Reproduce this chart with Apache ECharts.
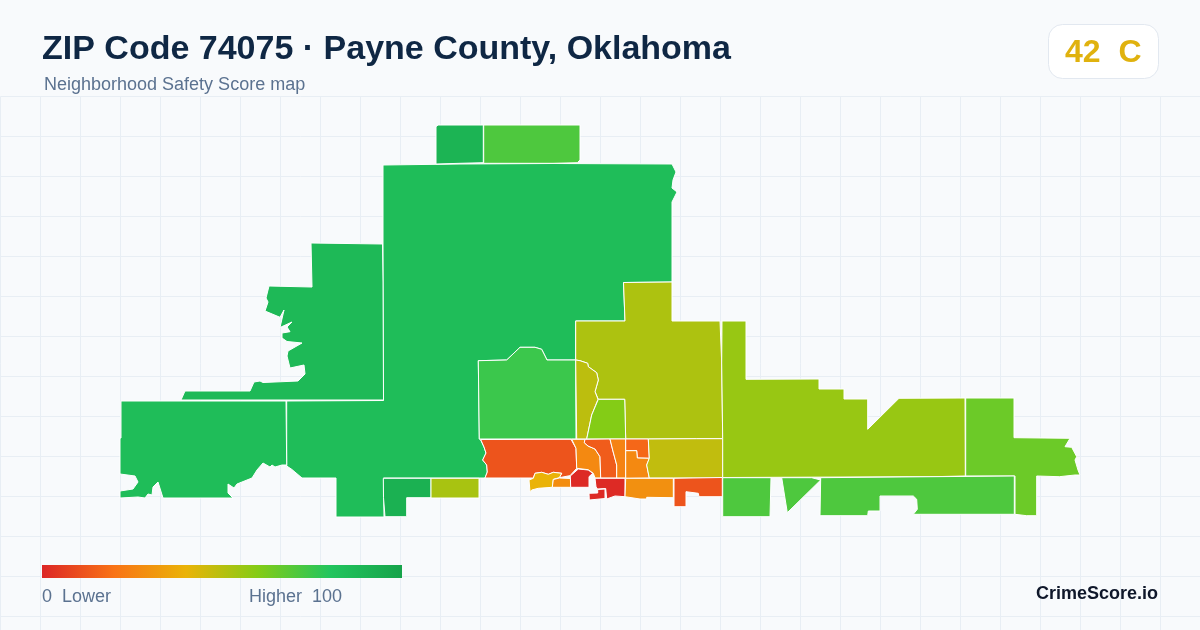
<!DOCTYPE html>
<html>
<head>
<meta charset="utf-8">
<title>ZIP Code 74075</title>
<script src="https://cdn.jsdelivr.net/npm/echarts@6/dist/echarts.min.js"></script>
<style>
  html, body { margin: 0; padding: 0; background: #f8fafc; }
  #main { width: 1200px; height: 630px; }
</style>
</head>
<body>
<div id="main"></div>
<script>
var titleText = 'ZIP Code 74075 · Payne County, Oklahoma';
var subtitleText = 'Neighborhood Safety Score map';
var badgeText = '42  C';
var brandText = 'CrimeScore.io';
var legendLowText = '0  Lower';
var legendHighText = 'Higher  100';

var rampColors = ['#dc2626', '#f97316', '#eab308', '#84cc16', '#22c55e', '#16a34a'];

// score of each area
var areaNames = ['main', 'west', 'southwest', 'topLeft', 'topRight', 'bottomDark', 'bottomOlive',
  'centerLeft', 'northCenter', 'sliver', 'lime', 'southBig', 'yellow', 'smallOrange', 'red1',
  'orangeA', 'orangeB', 'orangeC', 'orangeD', 'orangeE', 'rightOlive', 'redB', 'redC',
  'orangeF', 'orangeG', 'east', 'farEast', 'southeast'];
var areaScores = [85, 87, 85, 90, 71, 92, 53,
  75, 52, 49, 60, 12, 40, 28, 1,
  27, 14, 25, 17, 27, 48, 1, 1,
  29, 12, 56, 65, 71];

// area outlines
var areaOutlines = {
  main: [[[383,165],[460,164],[553,163.5],[672,164],[676,172],[673,180],[672,188],[677,192],[672,202],[672,282],[623.5,282.5],[625,321],[575.5,321],[575.5,360],[547,360],[541.7,349.3],[535,347.3],[520,347.3],[506.7,360],[478.3,360.7],[479.3,439],[480.7,440],[484,447],[486,453],[482.7,460],[486.7,465],[487.3,472],[485,478],[383.5,478],[384,517],[336,517],[336,478],[302,478],[291.7,469.3],[286.7,466],[286.7,401],[383.5,400.5],[383,282]]],
  west: [[[311,243],[347,243.5],[382.5,244],[383,282],[383.5,400],[181,400],[185,391],[250,391],[254,382],[260,381],[263,382.5],[298,381],[305,374],[304,365],[290,368],[287,356],[288,351],[302,343],[287,341.5],[282,338],[282,333],[290,331.7],[287,327],[292,322],[280,327.5],[284,310],[280,317.3],[265,311],[268,302],[266,298],[269,286],[312,287]]],
  southwest: [[[121,401],[286,401],[286.7,465],[282,465],[275,467],[272,465],[270,467],[263,463],[257,470],[252,478],[237,484],[234,488],[228,484],[228,493],[233,498],[163,498],[158,482],[153,487],[152,495],[148,494],[145,498],[138,497],[120,498],[120,491],[133,489],[138,482],[135,476],[120,474],[120,438],[121,438]]],
  topLeft: [[[436,126.7],[438,125],[483.3,125],[483.3,162.7],[460,163.3],[436,164]]],
  topRight: [[[483.7,125],[580,125],[580,160],[577.3,162.7],[553,163.3],[483.7,163.3]]],
  bottomDark: [[[383.3,478.3],[431,478.3],[431,497.7],[406.7,497.7],[406.7,516.7],[385,516.7],[383.5,497.7]]],
  bottomOlive: [[[431,478.3],[479,478.3],[479,498],[431,498]]],
  centerLeft: [[[478.3,360.7],[506.7,360],[520,347.3],[535,347.3],[541.7,349.3],[547,360],[575.7,360],[576,439],[479.3,439]]],
  northCenter: [[[575.7,321],[625,321],[623.5,282.5],[672,282],[672,321],[720,321],[721.7,363],[722.7,438.6],[696.7,438.7],[648.3,439],[625.7,439],[624.7,399.3],[598.3,399.3],[595,391.7],[598.3,380],[596.7,372.7],[588.3,366.7],[587.7,363.3],[580,360.7],[575.7,360]]],
  sliver: [[[575.7,360],[580,360.7],[587.7,363.3],[588.3,366.7],[596.7,372.7],[598.3,380],[595,391.7],[598,399.3],[591.7,415],[586.7,439],[576.7,439]]],
  lime: [[[598.3,399.3],[624.7,399.3],[625.7,439],[586.7,439],[591.7,415]]],
  southBig: [[[480.7,439.5],[571,439.3],[576,448.3],[576.7,468.3],[570,475.7],[568,476],[559.3,477.7],[561.7,473.3],[553.3,472.3],[548.3,474.3],[541.7,472.3],[535,473.3],[533.3,478],[485,478],[487.3,472],[486.7,465],[482.7,460],[486,453],[484,447]]],
  yellow: [[[535,473.3],[541.7,472.3],[548.3,474.3],[553.3,472.3],[561.7,473.3],[559.3,477.7],[553.3,479.3],[552.3,487.3],[538.3,488.3],[531.7,490],[530,491.7],[529,480],[533.3,478.3]]],
  smallOrange: [[[553.3,479.5],[559.3,478],[570.5,478.5],[570.7,487.3],[552.3,487.3]]],
  red1: [[[578.3,469],[588.3,470],[592.7,473.3],[589,476.7],[589,487.3],[570.7,487.3],[570.3,476]]],
  orangeA: [[[571.7,439.3],[585,439.3],[584.3,442.7],[588,446],[595,449],[600,456.7],[600.7,478],[595,478],[593.3,473.3],[588.3,469.7],[576.7,468.3],[576,448.3]]],
  orangeB: [[[585,439.3],[610,439],[612.7,450],[616.7,465],[616.7,478],[600.7,478],[600,456.7],[595,449],[588,446],[584.3,442.7]]],
  orangeC: [[[610,439],[625.7,439],[625.7,478],[616.7,478],[616.7,465],[612.7,450]]],
  orangeD: [[[625.7,439],[648.3,439],[649.3,458.3],[637.3,458],[636.7,450.7],[625.7,450.7]]],
  orangeE: [[[625.7,450.7],[636.7,450.7],[637.3,458],[649.3,458.3],[646.7,465],[649.3,478],[625.7,478.3]]],
  rightOlive: [[[648.3,439],[696.7,438.7],[723,438.7],[722.7,478],[649.3,478],[646.7,465],[649.3,458.3]]],
  redB: [[[595,478.3],[625,478.3],[625,496.7],[615,496],[606.7,499],[605.7,488.5],[597.5,489],[596,487]]],
  redC: [[[597.7,489.5],[605,489],[605,498.5],[589.3,500],[589,493.3],[597.7,493]]],
  orangeF: [[[625.7,478.3],[673.3,478.3],[673.3,497.7],[646.7,497.3],[646.7,499],[640,499],[640,498],[625,496.7]]],
  orangeG: [[[674,478.3],[722.3,477.5],[722.3,496.7],[699,496.7],[698.3,493.3],[686,491.7],[686,506.7],[674,506.7]]],
  east: [[[722,321],[746,321],[746,379.3],[819,379],[819,389],[844,389],[844,399],[867.7,399],[867.7,429.3],[899,398.3],[965,398],[965.3,476],[933,476.7],[722.7,477.5],[722.7,438.5],[721.7,363]]],
  farEast: [[[965.7,398],[1014,398],[1014,437.7],[1070,438.3],[1065,446.7],[1071.7,447.3],[1076.7,456.7],[1075,460],[1078,470],[1080,475],[1075,475],[1059.3,476.7],[1036.7,476],[1036.7,515.7],[1026.7,515.7],[1015,514.3],[1015,476],[965.7,476]]],
  southeast: [
    [[722.7,477.7],[771,477.7],[770,516.7],[722.7,516.7]],
    [[781.7,477.7],[811.7,477.7],[820.7,480],[787.3,512.7]],
    [[820.7,477.7],[933,476.7],[1014.3,476],[1014.3,514.3],[913.3,514.3],[917.3,509.3],[916.7,499.3],[913.3,496],[880,496],[880,511],[868.3,511],[867.7,515.7],[820,515.7]]
  ]
};

var features = areaNames.map(function (name) {
  return {
    type: 'Feature',
    properties: { name: name },
    geometry: { type: 'MultiPolygon', coordinates: areaOutlines[name].map(function (ring) { return [ring]; }) }
  };
});
echarts.registerMap('payne', { type: 'FeatureCollection', features: features });

// map box is the outline extent, the outlines are already in page pixels
var minX = Infinity, maxX = -Infinity, minY = Infinity, maxY = -Infinity;
areaNames.forEach(function (name) {
  areaOutlines[name].forEach(function (ring) {
    ring.forEach(function (p) {
      minX = Math.min(minX, p[0]); maxX = Math.max(maxX, p[0]);
      minY = Math.min(minY, p[1]); maxY = Math.max(maxY, p[1]);
    });
  });
});

var rampStops = rampColors.map(function (c, i) {
  return { offset: i / (rampColors.length - 1), color: c };
});

var myChart = echarts.init(document.getElementById('main'));
myChart.setOption({
  animation: false,
  backgroundColor: '#f8fafc',
  textStyle: { fontFamily: '"Liberation Sans", Arial, sans-serif' },
  grid: { left: 0.5, top: 96.5, width: 1200, height: 534 },
  xAxis: {
    type: 'value', min: 0, max: 1200, interval: 40, silent: true,
    axisLine: { show: false }, axisTick: { show: false }, axisLabel: { show: false },
    splitLine: { show: true, lineStyle: { color: '#e8eef4', width: 1 } }
  },
  yAxis: {
    type: 'value', inverse: true, min: 0, max: 534, interval: 40, silent: true,
    axisLine: { show: false }, axisTick: { show: false }, axisLabel: { show: false },
    splitLine: { show: true, lineStyle: { color: '#e8eef4', width: 1 } }
  },
  visualMap: {
    type: 'continuous', show: false, min: 0, max: 100, seriesIndex: 0,
    inRange: { color: rampColors }
  },
  series: [{
    type: 'map',
    map: 'payne',
    projection: {
      project: function (p) { return p; },
      unproject: function (p) { return p; }
    },
    left: minX, top: minY, width: maxX - minX, height: maxY - minY,
    silent: true, roam: false, selectedMode: false,
    label: { show: false },
    itemStyle: { borderColor: '#ffffff', borderWidth: 1 },
    data: areaNames.map(function (name, i) { return { name: name, value: areaScores[i] }; })
  }],
  graphic: [
    { type: 'text', z: 100, left: 42, top: 33, style: { text: titleText, font: 'bold 34px "Liberation Sans", Arial, sans-serif', fill: '#0f2744' } },
    { type: 'text', z: 100, left: 44, top: 76, style: { text: subtitleText, font: '18px "Liberation Sans", Arial, sans-serif', fill: '#5b7290' } },
    { type: 'rect', z: 100, shape: { x: 1048.5, y: 24.5, width: 110, height: 54, r: 14 }, style: { fill: '#ffffff', stroke: '#e2e8f0', lineWidth: 1 } },
    { type: 'text', z: 101, left: 1065, top: 37, style: { text: badgeText, font: 'bold 32px "Liberation Sans", Arial, sans-serif', fill: '#e0b20e' } },
    { type: 'rect', z: 100, shape: { x: 42, y: 565, width: 360, height: 13 }, style: { fill: new echarts.graphic.LinearGradient(0, 0, 1, 0, rampStops) } },
    { type: 'text', z: 100, left: 42, top: 588, style: { text: legendLowText, font: '18px "Liberation Sans", Arial, sans-serif', fill: '#5b7290' } },
    { type: 'text', z: 100, left: 249, top: 588, style: { text: legendHighText, font: '18px "Liberation Sans", Arial, sans-serif', fill: '#5b7290' } },
    { type: 'text', z: 100, right: 42, top: 585, style: { text: brandText, font: 'bold 18px "Liberation Sans", Arial, sans-serif', fill: '#0f172a' } }
  ]
});
</script>
</body>
</html>
